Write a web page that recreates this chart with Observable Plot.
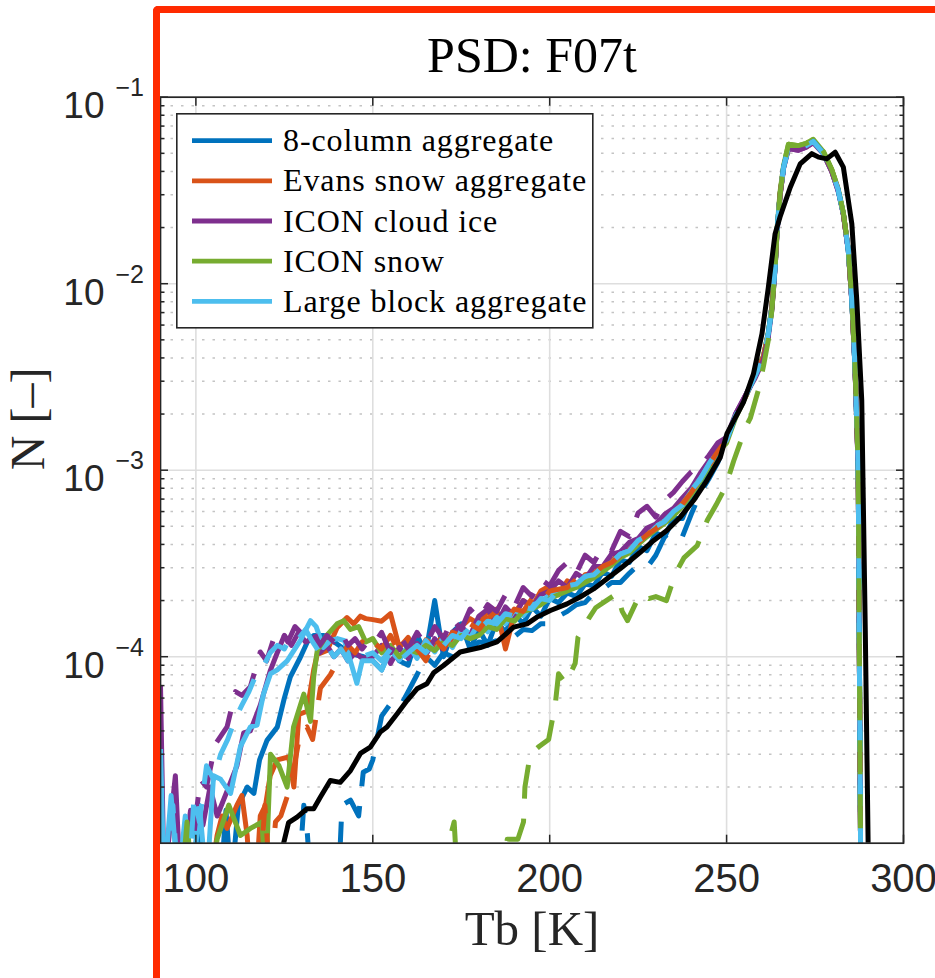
<!DOCTYPE html>
<html><head><meta charset="utf-8">
<script src="https://cdn.jsdelivr.net/npm/d3@7"></script>
<script src="https://cdn.jsdelivr.net/npm/@observablehq/plot@0.6"></script>
<style>
html,body{margin:0;padding:0;background:#fff;}
#wrap{position:relative;width:935px;height:978px;overflow:hidden;background:#fff;}
#redframe{position:absolute;left:153px;top:6px;width:900px;height:1100px;border-left:7.5px solid #ff2a00;border-top:7.5px solid #ff2a00;border-top-left-radius:5px;box-sizing:border-box;pointer-events:none;}
#legend{position:absolute;left:176px;top:113px;}
</style></head>
<body><div id="wrap"></div>
<script>
// ---------- labels ----------
const seriesNames = ["8-column aggregate","Evans snow aggregate","ICON cloud ice","ICON snow","Large block aggregate"];
const seriesColors = ["#0072BD","#D95319","#7E2F8E","#77AC30","#4DBEEE"];
const xTicks = [100,150,200,250,300];
const yMajor = [1e-1,1e-2,1e-3,1e-4];
const yExponents = ["\u22121","\u22122","\u22123","\u22124"];
const yMinor = [2e-5,3e-5,4e-5,5e-5,6e-5,7e-5,8e-5,9e-5,2e-4,3e-4,4e-4,5e-4,6e-4,7e-4,8e-4,9e-4,2e-3,3e-3,4e-3,5e-3,6e-3,7e-3,8e-3,9e-3,2e-2,3e-2,4e-2,5e-2,6e-2,7e-2,8e-2,9e-2];

// ---------- reference (black) ----------
const obsTb = [123,124.8,126.2,128.6,131.4,133.3,135.2,138.0,140.8,143.7,146.5,149.3,152.1,154.0,156.9,159.7,162.5,165.3,167.2,170.0,174.7,180.4,185.1,189.8,193.6,196.4,200.2,204.9,208.6,212.4,216.2,219.9,222.8,225.6,229.4,233.1,236.9,240.7,244.4,248.2,250.1,254.8,257.6,260.0,261.8,263.7,265.1,268.0,270.8,274.1,276.0,278.3,280.7,283.0,285.4,286.8,288.2,289.2,290.0,290.5];
const obsN = [5e-6,1.0e-5,1.29e-5,1.38e-5,1.53e-5,1.53e-5,1.77e-5,2.17e-5,2.12e-5,2.45e-5,3.03e-5,3.27e-5,3.94e-5,4.2e-5,4.94e-5,5.82e-5,6.73e-5,7.16e-5,8.2e-5,8.97e-5,1.06e-4,1.12e-4,1.2e-4,1.44e-4,1.5e-4,1.63e-4,1.77e-4,1.92e-4,2.09e-4,2.31e-4,2.62e-4,2.96e-4,3.28e-4,3.63e-4,4.2e-4,4.75e-4,5.6e-4,6.9e-4,8.8e-4,1.17e-3,1.57e-3,2.32e-3,3.29e-3,5.39e-3,9.57e-3,1.85e-2,2.28e-2,3.29e-2,4.39e-2,4.98e-2,4.77e-2,4.67e-2,5.07e-2,4.22e-2,2.09e-2,8.13e-3,2.37e-3,1.38e-4,1e-5,1e-6];

// ---------- shared Tb sampling of the middle and peak parts ----------
const tbMid = [150,152.5,155,157.5,160,162.5,165,167.5,170,172.5,175,177.5,180,182.5,185,187.5,190,192.5,195,197.5,200,202.5,205,207.5,210,212.5,215,217.5,220,222.5,225,227.5,230,232.5,235,237.5,240,242.5,245,247.5];
const peakTb = [250,252.5,255.7,258,260.4,261.8,262.8,263.7,264.2,265.1,266.1,267.5,270.3,272.5,274.5,277.4,279.7,281.5,283.0,284.4,285.4,286.3,287.2,287.7,288.2];
const peakN = [1.45e-3,1.95e-3,2.57e-3,3.2e-3,4.04e-3,5.4e-3,7.5e-3,1.23e-2,1.85e-2,3.0e-2,4.2e-2,5.4e-2,5.3e-2,5.5e-2,5.8e-2,5.0e-2,4.05e-2,3.2e-2,2.37e-2,1.51e-2,8.1e-3,3.56e-3,1.04e-3,3e-5,1e-6];
const purplePeakN = [1.5e-3,2.0e-3,2.6e-3,3.1e-3,3.9e-3,5.2e-3,7.3e-3,1.2e-2,1.8e-2,2.95e-2,4.15e-2,5.3e-2,5.2e-2,5.4e-2,5.7e-2,4.95e-2,4.0e-2,3.15e-2,2.35e-2,1.5e-2,8.0e-3,3.5e-3,1.0e-3,3e-5,1e-6];
const greenPeakN = [1.4e-3,1.9e-3,2.55e-3,3.25e-3,4.1e-3,5.5e-3,7.6e-3,1.25e-2,1.9e-2,3.1e-2,4.3e-2,5.6e-2,5.5e-2,5.65e-2,5.95e-2,5.1e-2,4.1e-2,3.25e-2,2.4e-2,1.53e-2,8.2e-3,3.6e-3,1.05e-3,3e-5,1e-6];

// ---------- 8-column aggregate ----------
const blueSolidLowTb = [99,100.7,102,107,108.5,110,112,114.5,116.4,118,120.1,123,125,126.7,129.5,131.5,133.3,136.1,139.9,143.7,147.4];
const blueSolidLowN = [6e-6,1.4e-5,6e-6,6e-6,1.5e-5,6e-6,1.6e-5,2.0e-5,1.85e-5,2.8e-5,3.56e-5,4.19e-5,6e-5,7.8e-5,9.9e-5,1.2e-4,1.3e-4,1.3e-4,1.17e-4,1.04e-4,1.0e-4];
const blueSolidMidN = [9.5e-5,8.5e-5,1.1e-4,9.5e-5,9.0e-5,1.3e-4,1.05e-4,2.0e-4,1.0e-4,1.35e-4,1.5e-4,1.1e-4,1.4e-4,1.15e-4,1.55e-4,1.35e-4,1.7e-4,1.5e-4,1.85e-4,1.65e-4,2.05e-4,1.95e-4,2.2e-4,2.1e-4,2.45e-4,2.4e-4,2.85e-4,2.7e-4,3.3e-4,3.2e-4,3.9e-4,3.7e-4,4.6e-4,4.4e-4,5.5e-4,5.5e-4,7.2e-4,8.6e-4,1.0e-3,1.22e-3];
const blueDashLowTb = [129,130.5,131.4,132.5,140.3,141.3,143.7,146,147.3,149];
const blueDashLowN = [6e-6,1.6e-5,1.2e-5,6e-6,6e-6,1.6e-5,1.7e-5,1.4e-5,2.4e-5,2.5e-5];
const blueDashMidN = [2.8e-5,4.8e-5,5.6e-5,5.3e-5,6.5e-5,8.0e-5,1.0e-4,9.0e-5,1.05e-4,1.0e-4,1.15e-4,1.1e-4,1.2e-4,1.18e-4,1.22e-4,1.3e-4,1.28e-4,1.4e-4,1.38e-4,1.5e-4,1.5e-4,1.65e-4,1.75e-4,1.9e-4,1.95e-4,2.2e-4,2.3e-4,2.5e-4,2.5e-4,2.8e-4,3.1e-4,3.0e-4,3.5e-4,4.4e-4,4.8e-4,4.4e-4,5.8e-4,7.5e-4,9.0e-4,1.1e-3];

// ---------- Evans snow aggregate ----------
const orangeSolidLowTb = [104,106,107.4,108.8,111.6,113,114.5,115.4,117,118.2,119.7,121,123,126.2,127.7,129.1,131.4,133.3,134.3,137.1,139.9,142.7,144.6,146.5,148];
const orangeSolidLowN = [6e-6,1.1e-5,1.4e-5,1.2e-5,1.6e-5,1.8e-5,1.1e-5,6e-6,6e-6,1.4e-5,1.6e-5,2.3e-5,2.8e-5,2.9e-5,2e-5,4.9e-5,5.1e-5,8.5e-5,1.03e-4,1.08e-4,1.43e-4,1.62e-4,1.5e-4,1.65e-4,1.6e-4];
const orangeSolidMidN = [1.58e-4,1.55e-4,1.7e-4,1.12e-4,1.27e-4,1.0e-4,1.23e-4,1.15e-4,1.3e-4,1.2e-4,1.45e-4,1.6e-4,1.5e-4,1.75e-4,1.8e-4,1.1e-4,1.7e-4,2.0e-4,1.85e-4,2.25e-4,2.4e-4,2.15e-4,2.55e-4,2.4e-4,2.75e-4,2.8e-4,3.05e-4,3.25e-4,3.65e-4,3.75e-4,4.25e-4,4.55e-4,5.05e-4,5.45e-4,6.05e-4,6.7e-4,7.9e-4,9.1e-4,1.08e-3,1.3e-3];
const orangeDashLowTb = [118,119.5,121,122.5,124,126.7,129.5,131.4,133,135.2,138,140.8,143,145,147,148.5];
const orangeDashLowN = [6e-6,1.6e-5,6e-6,1.3e-5,1.4e-5,2e-5,3.9e-5,4.2e-5,3.6e-5,6.8e-5,8e-5,1e-4,1.15e-4,1.05e-4,1.2e-4,1.1e-4];
const orangeDashMidN = [1.2e-4,1.1e-4,1.3e-4,1.05e-4,1.18e-4,1.1e-4,9.5e-5,1.25e-4,1.1e-4,1.35e-4,1.3e-4,1.5e-4,1.4e-4,1.6e-4,1.75e-4,1.55e-4,1.8e-4,1.75e-4,2.05e-4,1.95e-4,2.25e-4,2.3e-4,2.35e-4,2.6e-4,2.55e-4,2.8e-4,3.05e-4,3.2e-4,3.5e-4,3.75e-4,4.1e-4,4.5e-4,4.85e-4,5.4e-4,5.9e-4,6.6e-4,7.6e-4,9.0e-4,1.05e-3,1.28e-3];

// ---------- ICON cloud ice ----------
const purpleSolidLowTb = [90,91,94.2,95.6,98.5,100,102,104,106,108.8,111.6,113.5,115.4,118.2,121,123,125,127,129,131,133,135,137,139,141,143,145,147];
const purpleSolidLowN = [7e-5,6e-6,2.3e-5,6e-6,1.5e-5,1.2e-5,1.25e-5,2e-5,1.4e-5,1.9e-5,2.6e-5,3.9e-5,4e-5,5.5e-5,8.4e-5,1.05e-4,1.3e-4,1.15e-4,1.35e-4,1.2e-4,1.25e-4,1.05e-4,1.15e-4,1.0e-4,1.1e-4,9.5e-5,1.05e-4,9.8e-5];
const purpleSolidMidN = [1.0e-4,1.15e-4,9.2e-5,1.12e-4,9.8e-5,1.18e-4,1.02e-4,1.25e-4,1.08e-4,1.35e-4,1.45e-4,1.3e-4,1.65e-4,1.8e-4,1.5e-4,1.85e-4,1.65e-4,2.0e-4,1.85e-4,2.15e-4,2.25e-4,2.55e-4,2.35e-4,2.8e-4,2.6e-4,3.05e-4,3.05e-4,3.55e-4,3.65e-4,4.1e-4,4.3e-4,4.9e-4,5.15e-4,5.8e-4,6.25e-4,7.1e-4,8.0e-4,9.6e-4,1.12e-3,1.35e-3];
const purpleDashLowTb = [98,100,101.3,103,105.5,108.8,111.2,113,115.4,118.2,120,122,124,126,128,130.5,133,135,137,139,141,143,145,147,148.5];
const purpleDashLowN = [6e-6,1.4e-5,2.2e-5,2.0e-5,3.4e-5,4.2e-5,6.5e-5,6.2e-5,6.9e-5,1.06e-4,9.5e-5,1.25e-4,1.4e-4,1.2e-4,1.45e-4,1.3e-4,1.4e-4,1.15e-4,1.3e-4,1.2e-4,1.35e-4,1.15e-4,1.25e-4,1.1e-4,1.2e-4];
const purpleDashMidN = [1.15e-4,1.35e-4,1.05e-4,1.3e-4,1.1e-4,1.35e-4,1.15e-4,1.45e-4,1.25e-4,1.6e-4,1.4e-4,1.8e-4,1.6e-4,1.9e-4,1.75e-4,2.15e-4,1.85e-4,2.35e-4,2.1e-4,2.6e-4,2.4e-4,2.9e-4,3.2e-4,2.8e-4,3.5e-4,3.2e-4,3.9e-4,3.7e-4,4.7e-4,4.4e-4,5.9e-4,6.4e-4,5.6e-4,6.9e-4,7.6e-4,8.7e-4,9.8e-4,1.04e-3,1.2e-3,1.4e-3];

// ---------- ICON snow ----------
const greenSolidLowTb = [96,97.5,99,104,106,109.3,112.6,115.4,118.7,119.7,121.1,123.5,125.8,127.6,130.5,132.4,133.3,134.3,137,139.9,141.8,143.7,146,148];
const greenSolidLowN = [6e-6,1.3e-5,6e-6,6e-6,1.05e-5,1.6e-5,1.1e-5,1.2e-5,1.3e-5,6e-6,3.0e-5,2.6e-5,2.0e-5,4.2e-5,6.3e-5,4.5e-5,7.8e-5,1.08e-4,1.3e-4,1.5e-4,1.56e-4,1.4e-4,1.45e-4,1.2e-4];
const greenSolidMidN = [1.25e-4,1.05e-4,1.15e-4,1.0e-4,1.1e-4,1.05e-4,1.15e-4,1.08e-4,1.2e-4,1.15e-4,1.3e-4,1.25e-4,1.3e-4,1.45e-4,1.4e-4,1.6e-4,1.55e-4,1.75e-4,1.8e-4,1.9e-4,2.05e-4,2.15e-4,2.25e-4,2.35e-4,2.5e-4,2.65e-4,2.85e-4,3.1e-4,3.4e-4,3.6e-4,4.0e-4,4.4e-4,4.8e-4,5.2e-4,5.7e-4,6.4e-4,7.4e-4,8.7e-4,1.04e-3,1.25e-3];
const greenDashTb = [170,172,173,174,187,188,191,192.6,193,194.5,197,199.7,201.6,202.5,204.5,207.2,208,211,213,216,219,220.5,222,225.6,228,230,233,235.5,238,241.7,244.5,247,249.6,252,255.4,256.7,259,260.4,261.8,262.8,263.7,264.2,265.1,266.1,267.5,270.3,272.5,274.5,277.4,279.7,281.5,283.0,284.4,285.4,286.3,287.2,287.7,288.2];
const greenDashN = [6e-6,1.1e-5,1.3e-5,6e-6,6e-6,1.05e-5,1.05e-5,1.3e-5,2.0e-5,3.0e-5,3.3e-5,3.6e-5,5.6e-5,8.1e-5,7.2e-5,9.2e-5,1.27e-4,1.6e-4,1.83e-4,2.0e-4,2.18e-4,1.75e-4,1.56e-4,2.18e-4,2.05e-4,2.1e-4,2.0e-4,2.79e-4,3.4e-4,3.94e-4,5.37e-4,6.5e-4,8.05e-4,1.12e-3,1.7e-3,1.9e-3,2.7e-3,3.6e-3,5.0e-3,7.2e-3,1.2e-2,1.8e-2,3.0e-2,4.3e-2,5.6e-2,5.5e-2,5.65e-2,5.95e-2,5.1e-2,4.1e-2,3.25e-2,2.4e-2,1.53e-2,8.2e-3,3.6e-3,1.05e-3,3e-5,1e-6];

// ---------- Large block aggregate ----------
const lblueSolidLowTb = [90,91,93,95,97,99,101,103,105,107,109.8,112.6,115.4,117.3,119.1,121.1,123,125.8,129.5,132.4,134,136,138,140,142,145.5,147];
const lblueSolidLowN = [3.2e-5,6e-6,1.8e-5,6e-6,1.4e-5,6e-6,1.6e-5,6e-6,2.3e-5,2.2e-5,1.85e-5,3.3e-5,4.2e-5,4.3e-5,6.3e-5,8.1e-5,8.5e-5,9.5e-5,1.22e-4,1.56e-4,1.45e-4,1.12e-4,1.22e-4,1.25e-4,1.22e-4,7.2e-5,9.5e-5];
const lblueSolidMidN = [9.5e-5,8.5e-5,1.08e-4,9.6e-5,1.15e-4,9.8e-5,1.22e-4,1.06e-4,1.28e-4,1.12e-4,1.38e-4,1.26e-4,1.52e-4,1.36e-4,1.63e-4,1.5e-4,1.78e-4,1.66e-4,1.9e-4,1.95e-4,2.15e-4,2.2e-4,2.35e-4,2.45e-4,2.65e-4,2.75e-4,3.0e-4,3.2e-4,3.55e-4,3.7e-4,4.15e-4,4.45e-4,4.95e-4,5.35e-4,5.95e-4,6.55e-4,7.7e-4,9.0e-4,1.07e-3,1.28e-3];
const lblueDashLowTb = [92,93.5,95,98,99.5,101,103,105,107,109,111,113,115,117,119,121,123,125,127,129,131,133,135,137,139,141,143,145,147];
const lblueDashLowN = [6e-6,1.6e-5,6e-6,6e-6,1.8e-5,1.3e-5,2.6e-5,2.2e-5,3.0e-5,3.6e-5,4.6e-5,5.5e-5,6.5e-5,8.0e-5,8.8e-5,1.05e-4,1.15e-4,1.1e-4,1.3e-4,1.25e-4,1.4e-4,1.2e-4,1.05e-4,1.15e-4,1.0e-4,1.1e-4,9.5e-5,1.05e-4,1.0e-4];
const lblueDashMidN = [1.05e-4,9.5e-5,1.1e-4,9.5e-5,1.05e-4,1.15e-4,1.05e-4,1.2e-4,1.15e-4,1.3e-4,1.25e-4,1.45e-4,1.4e-4,1.55e-4,1.5e-4,1.7e-4,1.65e-4,1.85e-4,1.8e-4,2.05e-4,2.0e-4,2.3e-4,2.4e-4,2.45e-4,2.7e-4,2.75e-4,3.05e-4,3.2e-4,3.55e-4,3.7e-4,4.2e-4,4.45e-4,5.0e-4,5.3e-4,6.0e-4,6.5e-4,7.8e-4,8.9e-4,1.08e-3,1.27e-3];

// ---------- assemble ----------
function rows(tb, n) {
  const m = Math.min(tb.length, n.length);
  const out = [];
  for (let i = 0; i < m; i++) out.push({Tb: tb[i], N: n[i]});
  return out;
}
function joined(lowTb, lowN, midN, pkN) {
  return rows(lowTb.concat(tbMid, peakTb), lowN.concat(midN, pkN));
}
const C = seriesColors;
const lines = [
  {color: C[0], dashed: false, data: joined(blueSolidLowTb, blueSolidLowN, blueSolidMidN, peakN)},
  {color: C[1], dashed: false, data: joined(orangeSolidLowTb, orangeSolidLowN, orangeSolidMidN, peakN)},
  {color: C[2], dashed: false, data: joined(purpleSolidLowTb, purpleSolidLowN, purpleSolidMidN, purplePeakN)},
  {color: C[4], dashed: false, data: joined(lblueSolidLowTb, lblueSolidLowN, lblueSolidMidN, peakN)},
  {color: C[3], dashed: false, data: joined(greenSolidLowTb, greenSolidLowN, greenSolidMidN, greenPeakN)},
  {color: C[0], dashed: true, data: joined(blueDashLowTb, blueDashLowN, blueDashMidN, peakN)},
  {color: C[1], dashed: true, data: joined(orangeDashLowTb, orangeDashLowN, orangeDashMidN, peakN)},
  {color: C[2], dashed: true, data: joined(purpleDashLowTb, purpleDashLowN, purpleDashMidN, purplePeakN)},
  {color: C[4], dashed: true, data: joined(lblueDashLowTb, lblueDashLowN, lblueDashMidN, peakN)},
  {color: C[3], dashed: true, data: rows(greenDashTb, greenDashN)},
  {color: "#000000", dashed: false, data: rows(obsTb, obsN)}
];

const AX = "#262626";
const sans = "Liberation Sans, Arial, Helvetica, sans-serif";
const serif = "Liberation Serif, Times New Roman, serif";

const chart = Plot.plot({
  width: 935, height: 978,
  marginLeft: 160, marginRight: 32, marginTop: 96.7, marginBottom: 135.3,
  style: {background: "transparent", overflow: "visible"},
  x: {type: "linear", domain: [90, 300]},
  y: {type: "log", domain: [1e-5, 1e-1]},
  marks: [
    Plot.ruleY(yMinor, {y: d => d, stroke: "#c4c4c4", strokeWidth: 1.5, strokeDasharray: "2.5,8"}),
    Plot.ruleY(yMajor, {y: d => d, stroke: "#dedede", strokeWidth: 1.6}),
    Plot.ruleX(xTicks, {x: d => d, stroke: "#dedede", strokeWidth: 1.6}),
    ...lines.map(s => Plot.line(s.data, {
      x: "Tb", y: "N", stroke: s.color, strokeWidth: 5,
      strokeDasharray: s.dashed ? "34,20" : null,
      strokeLinejoin: "round", strokeLinecap: "butt", clip: true
    })),
    Plot.frame({stroke: AX, strokeWidth: 1.7}),
    Plot.axisX(xTicks, {anchor: "bottom", tickSize: -8, tickFormat: () => "", stroke: AX, strokeWidth: 1.5, label: null}),
    Plot.axisX(xTicks, {anchor: "top", tickSize: -8, tickFormat: () => "", stroke: AX, strokeWidth: 1.5, label: null}),
    Plot.axisY(yMajor, {anchor: "left", tickSize: -8, tickFormat: () => "", stroke: AX, strokeWidth: 1.5, label: null}),
    Plot.axisY(yMajor, {anchor: "right", tickSize: -8, tickFormat: () => "", stroke: AX, strokeWidth: 1.5, label: null}),
    Plot.axisY(yMinor, {anchor: "left", tickSize: -4.5, tickFormat: () => "", stroke: AX, strokeWidth: 1.5, label: null}),
    Plot.axisY(yMinor, {anchor: "right", tickSize: -4.5, tickFormat: () => "", stroke: AX, strokeWidth: 1.5, label: null}),
    // x tick labels
    Plot.text(xTicks, {x: d => d, frameAnchor: "bottom", lineAnchor: "bottom", dy: 48.5, text: d => String(d),
      fontSize: 40, fontFamily: sans, fill: AX}),
    // y tick labels: base and exponent
    Plot.text(yMajor, {y: d => d, frameAnchor: "left", lineAnchor: "middle", textAnchor: "end", dx: -56, dy: 9,
      text: () => "10", fontSize: 37, fontFamily: sans, fill: AX}),
    Plot.text(yMajor, {y: d => d, frameAnchor: "left", lineAnchor: "middle", textAnchor: "start", dx: -45, dy: -9,
      text: (d, i) => yExponents[i], fontSize: 25, fontFamily: sans, fill: AX}),
    // title and axis labels
    Plot.text(["PSD: F07t"], {frameAnchor: "top", lineAnchor: "bottom", dy: -25.7, text: d => d,
      fontSize: 50, fontFamily: serif, fill: "#000"}),
    Plot.text(["Tb [K]"], {frameAnchor: "bottom", lineAnchor: "bottom", dy: 102, text: d => d,
      fontSize: 49, fontFamily: serif, fill: AX}),
    Plot.text(["N [\u2013]"], {frameAnchor: "left", lineAnchor: "bottom", rotate: -90, dx: -117, text: d => d,
      fontSize: 48, fontFamily: serif, fill: AX})
  ]
});

const wrap = document.getElementById("wrap");
wrap.appendChild(chart);

// legend (inside the axes, upper left)
const lg = d3.select(wrap).append("svg").attr("id", "legend")
  .attr("width", 418).attr("height", 216);
lg.append("rect").attr("x", 0.8).attr("y", 0.8).attr("width", 416).attr("height", 214)
  .attr("fill", "#fff").attr("stroke", AX).attr("stroke-width", 1.6);
seriesNames.forEach((name, i) => {
  const cy = 27.7 + i * 40.15;
  lg.append("line").attr("x1", 16).attr("x2", 96).attr("y1", cy).attr("y2", cy)
    .attr("stroke", seriesColors[i]).attr("stroke-width", 4.8);
  lg.append("text").attr("x", 107).attr("y", cy + 10.5).text(name)
    .attr("font-family", serif).attr("font-size", 32).attr("letter-spacing", "0.9px").attr("fill", "#000");
});

// red highlight frame
const rf = document.createElement("div");
rf.id = "redframe";
wrap.appendChild(rf);
</script></body></html>
